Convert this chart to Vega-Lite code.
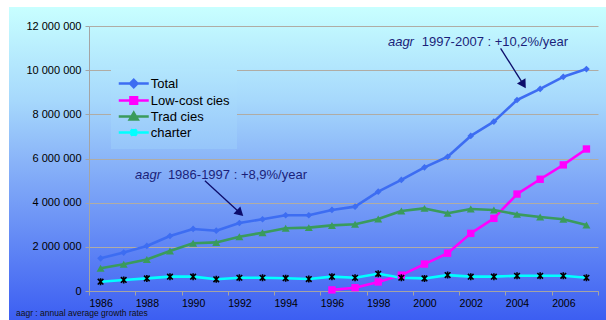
{
  "$schema": "https://vega.github.io/schema/vega-lite/v6.json",
  "width": 597,
  "height": 313,
  "autosize": {"type": "none"},
  "padding": {"left": 9, "top": 7, "right": 0, "bottom": 0},
  "background": "white",
  "view": {
    "stroke": null,
    "fill": {
      "gradient": "linear", "x1": 0, "y1": 0, "x2": 0, "y2": 1,
      "stops": [
        {"offset": 0, "color": "#c8ffff"},
        {"offset": 0.3, "color": "#a6d8fc"},
        {"offset": 0.5, "color": "#88b2f8"},
        {"offset": 1, "color": "#3c5ef2"}
      ]
    }
  },
  "config": {
    "font": "Liberation Sans",
    "axis": {"labelFont": "Liberation Sans", "labelColor": "#000000"},
    "legend": {"labelFont": "Liberation Sans"}
  },
  "title": {
    "text": "aagr : annual average growth rates",
    "orient": "bottom",
    "anchor": "start",
    "frame": "group",
    "offset": -7,
    "baseline": "middle",
    "dx": 7,
    "font": "Liberation Sans",
    "fontSize": 8.5,
    "fontWeight": "normal",
    "color": "#111111"
  },
  "datasets": {
    "traffic": [
      {"year": 1986, "series": "Total", "value": 1480000},
      {"year": 1987, "series": "Total", "value": 1740000},
      {"year": 1988, "series": "Total", "value": 2040000},
      {"year": 1989, "series": "Total", "value": 2490000},
      {"year": 1990, "series": "Total", "value": 2810000},
      {"year": 1991, "series": "Total", "value": 2730000},
      {"year": 1992, "series": "Total", "value": 3080000},
      {"year": 1993, "series": "Total", "value": 3250000},
      {"year": 1994, "series": "Total", "value": 3430000},
      {"year": 1995, "series": "Total", "value": 3430000},
      {"year": 1996, "series": "Total", "value": 3670000},
      {"year": 1997, "series": "Total", "value": 3820000},
      {"year": 1998, "series": "Total", "value": 4500000},
      {"year": 1999, "series": "Total", "value": 5030000},
      {"year": 2000, "series": "Total", "value": 5600000},
      {"year": 2001, "series": "Total", "value": 6080000},
      {"year": 2002, "series": "Total", "value": 7020000},
      {"year": 2003, "series": "Total", "value": 7670000},
      {"year": 2004, "series": "Total", "value": 8650000},
      {"year": 2005, "series": "Total", "value": 9150000},
      {"year": 2006, "series": "Total", "value": 9700000},
      {"year": 2007, "series": "Total", "value": 10050000},
      {"year": 1996, "series": "Low-cost cies", "value": 50000},
      {"year": 1997, "series": "Low-cost cies", "value": 150000},
      {"year": 1998, "series": "Low-cost cies", "value": 410000},
      {"year": 1999, "series": "Low-cost cies", "value": 720000},
      {"year": 2000, "series": "Low-cost cies", "value": 1220000},
      {"year": 2001, "series": "Low-cost cies", "value": 1710000},
      {"year": 2002, "series": "Low-cost cies", "value": 2610000},
      {"year": 2003, "series": "Low-cost cies", "value": 3290000},
      {"year": 2004, "series": "Low-cost cies", "value": 4390000},
      {"year": 2005, "series": "Low-cost cies", "value": 5060000},
      {"year": 2006, "series": "Low-cost cies", "value": 5710000},
      {"year": 2007, "series": "Low-cost cies", "value": 6430000},
      {"year": 1986, "series": "Trad cies", "value": 1030000},
      {"year": 1987, "series": "Trad cies", "value": 1210000},
      {"year": 1988, "series": "Trad cies", "value": 1430000},
      {"year": 1989, "series": "Trad cies", "value": 1810000},
      {"year": 1990, "series": "Trad cies", "value": 2160000},
      {"year": 1991, "series": "Trad cies", "value": 2200000},
      {"year": 1992, "series": "Trad cies", "value": 2460000},
      {"year": 1993, "series": "Trad cies", "value": 2640000},
      {"year": 1994, "series": "Trad cies", "value": 2840000},
      {"year": 1995, "series": "Trad cies", "value": 2870000},
      {"year": 1996, "series": "Trad cies", "value": 2970000},
      {"year": 1997, "series": "Trad cies", "value": 3020000},
      {"year": 1998, "series": "Trad cies", "value": 3260000},
      {"year": 1999, "series": "Trad cies", "value": 3620000},
      {"year": 2000, "series": "Trad cies", "value": 3740000},
      {"year": 2001, "series": "Trad cies", "value": 3520000},
      {"year": 2002, "series": "Trad cies", "value": 3710000},
      {"year": 2003, "series": "Trad cies", "value": 3670000},
      {"year": 2004, "series": "Trad cies", "value": 3470000},
      {"year": 2005, "series": "Trad cies", "value": 3350000},
      {"year": 2006, "series": "Trad cies", "value": 3250000},
      {"year": 2007, "series": "Trad cies", "value": 2990000},
      {"year": 1986, "series": "charter", "value": 420000},
      {"year": 1987, "series": "charter", "value": 500000},
      {"year": 1988, "series": "charter", "value": 570000},
      {"year": 1989, "series": "charter", "value": 650000},
      {"year": 1990, "series": "charter", "value": 650000},
      {"year": 1991, "series": "charter", "value": 530000},
      {"year": 1992, "series": "charter", "value": 600000},
      {"year": 1993, "series": "charter", "value": 600000},
      {"year": 1994, "series": "charter", "value": 580000},
      {"year": 1995, "series": "charter", "value": 540000},
      {"year": 1996, "series": "charter", "value": 650000},
      {"year": 1997, "series": "charter", "value": 600000},
      {"year": 1998, "series": "charter", "value": 780000},
      {"year": 1999, "series": "charter", "value": 600000},
      {"year": 2000, "series": "charter", "value": 570000},
      {"year": 2001, "series": "charter", "value": 720000},
      {"year": 2002, "series": "charter", "value": 650000},
      {"year": 2003, "series": "charter", "value": 650000},
      {"year": 2004, "series": "charter", "value": 690000},
      {"year": 2005, "series": "charter", "value": 690000},
      {"year": 2006, "series": "charter", "value": 690000},
      {"year": 2007, "series": "charter", "value": 600000}
    ],
    "aagrTerm": [
      {"x": 1998.42, "y": 11275000, "text": "aagr"},
      {"x": 1987.49, "y": 5253000, "text": "aagr"}
    ],
    "aagrRate": [
      {"x": 1999.88, "y": 11275000, "text": "1997-2007 : +10,2%/year"},
      {"x": 1988.91, "y": 5253000, "text": "1986-1997 : +8,9%/year"}
    ],
    "arrows": [
      {"period": "1997-2007", "x": 2003.29, "y": 10990000, "x2": 2004.28, "y2": 9346000},
      {"period": "1986-1997", "x": 1990.51, "y": 4995000, "x2": 1992.03, "y2": 3528000}
    ]
  },
  "layer": [
    {
      "data": {"name": "traffic"},
      "mark": {"type": "line", "strokeJoin": "round"},
      "encoding": {
        "x": {
          "field": "year", "type": "quantitative",
          "scale": {"domain": [1985.5, 2007.5], "range": [80, 589], "zero": false, "nice": false},
          "axis": {
            "title": null,
            "values": [1985.5, 1986.5, 1987.5, 1988.5, 1989.5, 1990.5, 1991.5, 1992.5, 1993.5, 1994.5, 1995.5, 1996.5, 1997.5, 1998.5, 1999.5, 2000.5, 2001.5, 2002.5, 2003.5, 2004.5, 2005.5, 2006.5, 2007.5],
            "labelExpr": "(datum.value + 0.5) % 2 == 0 && datum.value < 2007 ? toString(datum.value + 0.5) : ''",
            "labelOffset": 11.57,
            "labelOverlap": false,
            "labelFlush": false,
            "labelBound": false,
            "labelFontSize": 10.5,
            "labelPadding": 3,
            "tickSize": 4,
            "tickColor": "#a4a4a4",
            "domainColor": "#a4a4a4",
            "grid": false,
            "offset": -29
          }
        },
        "y": {
          "field": "value", "type": "quantitative",
          "scale": {"domain": [0, 12000000], "range": [284, 19], "nice": false},
          "axis": {
            "title": null,
            "values": [0, 2000000, 4000000, 6000000, 8000000, 10000000, 12000000],
            "labelExpr": "replace(replace(format(datum.value, ','), ',', ' '), ',', ' ')",
            "labelFontSize": 11,
            "labelPadding": 4,
            "tickSize": 4,
            "tickColor": "#a4a4a4",
            "domainColor": "#a4a4a4",
            "grid": true,
            "gridColor": "#b0aca4",
            "gridWidth": 1,
            "offset": -80
          }
        },
        "color": {
          "field": "series", "type": "nominal",
          "scale": {
            "domain": ["Total", "Low-cost cies", "Trad cies", "charter"],
            "range": ["#3d6df2", "#ff00ff", "#3a9b5c", "#00ffff"]
          },
          "legend": {
            "orient": "none",
            "legendX": 102,
            "legendY": 62,
            "title": null,
            "padding": 7,
            "symbolSize": 144,
            "symbolOffset": 8.25,
            "labelOffset": 9.5,
            "rowPadding": -2,
            "labelFontSize": 13,
            "labelColor": "#000000",
            "encode": {
              "legend": {
                "update": {
                  "fill": {
                    "value": {
                      "gradient": "linear", "x1": 0, "y1": 0, "x2": 0, "y2": 1,
                      "stops": [
                        {"offset": 0, "color": "#b2e6fd"},
                        {"offset": 1, "color": "#96c5fa"}
                      ]
                    }
                  }
                }
              },
              "symbols": {
                "update": {
                  "shape": {"signal": "datum.value === 'Total' ? 'M-2.5,0H2.5M0,-0.6L0.6,0L0,0.6L-0.6,0Z' : datum.value === 'Low-cost cies' ? 'M-2.5,0H2.5M-0.55,-0.55H0.55V0.55H-0.55Z' : datum.value === 'Trad cies' ? 'M-2.5,0H2.5M0,-0.6L0.65,0.5H-0.65Z' : 'M-2.5,0H2.5M-0.5,-0.5L0.5,0.5M-0.5,0.5L0.5,-0.5M0,-0.6V0.6'"},
                  "stroke": {"signal": "scale('color', datum.value)"},
                  "fill": {"signal": "datum.value === 'charter' ? 'transparent' : scale('color', datum.value)"},
                  "strokeWidth": {"signal": "datum.value === 'charter' ? 1.5 : 2.5"},
                  "opacity": {"value": 1}
                }
              }
            }
          }
        },
        "strokeWidth": {
          "field": "series", "type": "nominal",
          "scale": {"domain": ["Total", "Low-cost cies", "Trad cies", "charter"], "range": [2.6, 2.6, 2.6, 1.5]},
          "legend": null
        }
      }
    },
    {
      "data": {"name": "traffic"},
      "transform": [{"filter": "datum.series !== 'charter'"}],
      "mark": {"type": "point", "filled": true, "opacity": 1},
      "encoding": {
        "x": {"field": "year", "type": "quantitative", "scale": {"domain": [1985.5, 2007.5], "range": [80, 589], "zero": false, "nice": false}},
        "y": {"field": "value", "type": "quantitative", "scale": {"domain": [0, 12000000], "range": [284, 19], "nice": false}},
        "color": {"field": "series", "type": "nominal"},
        "shape": {
          "field": "series", "type": "nominal",
          "scale": {"domain": ["Total", "Low-cost cies", "Trad cies"], "range": ["diamond", "square", "triangle-up"]},
          "legend": null
        },
        "size": {
          "field": "series", "type": "nominal",
          "scale": {"domain": ["Total", "Low-cost cies", "Trad cies"], "range": [45, 64, 80]},
          "legend": null
        }
      }
    },
    {
      "data": {"name": "traffic"},
      "transform": [{"filter": "datum.series === 'charter'"}],
      "mark": {
        "type": "point",
        "shape": "M-0.8,-0.8L0.8,0.8M-0.8,0.8L0.8,-0.8M0,-1V1",
        "filled": false,
        "stroke": "#000000",
        "strokeWidth": 1.6,
        "size": 49,
        "opacity": 1
      },
      "encoding": {
        "x": {"field": "year", "type": "quantitative", "scale": {"domain": [1985.5, 2007.5], "range": [80, 589], "zero": false, "nice": false}},
        "y": {"field": "value", "type": "quantitative", "scale": {"domain": [0, 12000000], "range": [284, 19], "nice": false}}
      }
    },
    {
      "data": {"name": "arrows"},
      "mark": {"type": "rule", "color": "#0d0d6b", "strokeWidth": 1.3},
      "encoding": {
        "x": {"field": "x", "type": "quantitative", "scale": {"domain": [1985.5, 2007.5], "range": [80, 589], "zero": false, "nice": false}},
        "x2": {"field": "x2"},
        "y": {"field": "y", "type": "quantitative", "scale": {"domain": [0, 12000000], "range": [284, 19], "nice": false}},
        "y2": {"field": "y2"}
      }
    },
    {
      "data": {"name": "arrows"},
      "transform": [{"filter": "datum.period === '1997-2007'"}],
      "mark": {"type": "point", "shape": "triangle-down", "filled": true, "color": "#0d0d6b", "size": 100, "angle": 328, "opacity": 1},
      "encoding": {
        "x": {"field": "x2", "type": "quantitative", "scale": {"domain": [1985.5, 2007.5], "range": [80, 589], "zero": false, "nice": false}},
        "y": {"field": "y2", "type": "quantitative", "scale": {"domain": [0, 12000000], "range": [284, 19], "nice": false}}
      }
    },
    {
      "data": {"name": "arrows"},
      "transform": [{"filter": "datum.period === '1986-1997'"}],
      "mark": {"type": "point", "shape": "triangle-down", "filled": true, "color": "#0d0d6b", "size": 100, "angle": 313, "opacity": 1},
      "encoding": {
        "x": {"field": "x2", "type": "quantitative", "scale": {"domain": [1985.5, 2007.5], "range": [80, 589], "zero": false, "nice": false}},
        "y": {"field": "y2", "type": "quantitative", "scale": {"domain": [0, 12000000], "range": [284, 19], "nice": false}}
      }
    },
    {
      "data": {"name": "aagrTerm"},
      "mark": {"type": "text", "align": "left", "baseline": "middle", "font": "Liberation Sans", "fontSize": 13, "fontStyle": "italic", "color": "#1a1f7a"},
      "encoding": {
        "x": {"field": "x", "type": "quantitative", "scale": {"domain": [1985.5, 2007.5], "range": [80, 589], "zero": false, "nice": false}},
        "y": {"field": "y", "type": "quantitative", "scale": {"domain": [0, 12000000], "range": [284, 19], "nice": false}},
        "text": {"field": "text"}
      }
    },
    {
      "data": {"name": "aagrRate"},
      "mark": {"type": "text", "align": "left", "baseline": "middle", "font": "Liberation Sans", "fontSize": 13, "color": "#1a1f7a"},
      "encoding": {
        "x": {"field": "x", "type": "quantitative", "scale": {"domain": [1985.5, 2007.5], "range": [80, 589], "zero": false, "nice": false}},
        "y": {"field": "y", "type": "quantitative", "scale": {"domain": [0, 12000000], "range": [284, 19], "nice": false}},
        "text": {"field": "text"}
      }
    }
  ]
}
